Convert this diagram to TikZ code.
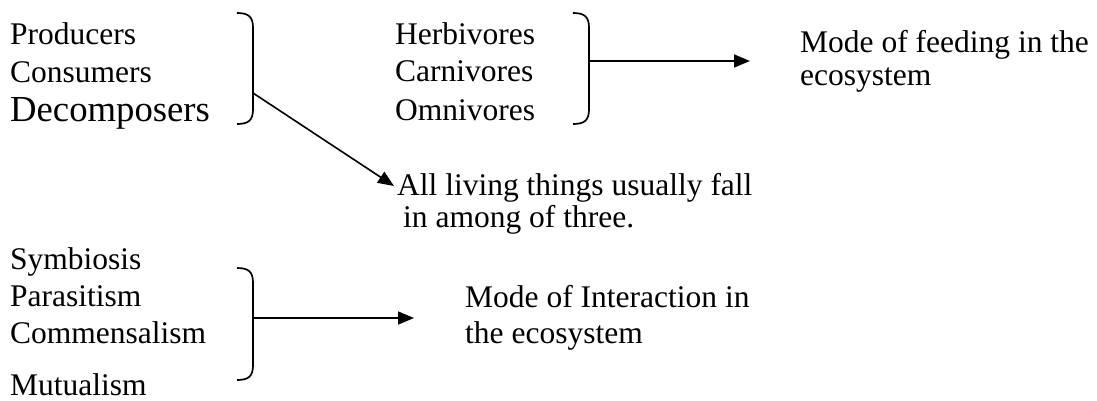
\documentclass[tikz,border=0pt]{standalone}
\usepackage{fontspec}
\setmainfont{Liberation Serif}
\usetikzlibrary{arrows.meta}
\begin{document}
\begin{tikzpicture}[x=1pt,y=-1pt,
  txt/.style={anchor=base west,inner sep=0pt,font=\fontsize{31.5}{37}\selectfont},
  big/.style={anchor=base west,inner sep=0pt,font=\fontsize{36.7}{43}\selectfont},
  brk/.style={line width=1.7pt},
  arr/.style={line width=1.6pt,-{Triangle[length=16pt,width=13pt]}}]
\useasboundingbox (0,0) rectangle (1097,400);
% group 1
\node[txt] (prod) at (10,44) {Producers};
\node[txt] (cons) at (10,82) {Consumers};
\node[big] (deco) at (10,121) {Decomposers};
% group 2
\node[txt] (herb) at (395,44) {Herbivores};
\node[txt] (carn) at (395,81) {Carnivores};
\node[txt] (omni) at (395,120) {Omnivores};
% feeding
\node[txt] (feed1) at (800,52) {Mode of feeding in the};
\node[txt] (feed2) at (800,85) {ecosystem};
% all living
\node[txt] (all1) at (397,195) {All living things usually fall};
\node[txt] (all2) at (403,227) {in among of three.};
% group 3
\node[txt] (symb) at (10,269) {Symbiosis};
\node[txt] (para) at (10,306) {Parasitism};
\node[txt] (comm) at (10,343) {Commensalism};
\node[txt] (mutu) at (10,395) {Mutualism};
% interaction
\node[txt] (int1) at (465,307) {Mode of Interaction in};
\node[txt] (int2) at (465,343) {the ecosystem};
% brackets
\draw[brk] (237,13) .. controls (249,13) and (253,17) .. (253,28) -- (253,109) .. controls (253,120) and (249,124) .. (237,124);
\draw[brk] (573,13) .. controls (585,13) and (589,17) .. (589,28) -- (589,109) .. controls (589,120) and (585,124) .. (573,124);
\draw[brk] (237,268) .. controls (249,268) and (253,272) .. (253,283) -- (253,365) .. controls (253,376) and (249,380) .. (237,380);
% arrow anchors
\coordinate (b1) at (253,93);
\coordinate (t1) at (394,186);
\coordinate (b2) at (589,61);
\coordinate (t2) at (750,61);
\coordinate (b3) at (253,318);
\coordinate (t3) at (414,318);
\draw[arr] (b1) -- (t1);
\draw[arr] (b2) -- (t2);
\draw[arr] (b3) -- (t3);
\end{tikzpicture}
\end{document}
